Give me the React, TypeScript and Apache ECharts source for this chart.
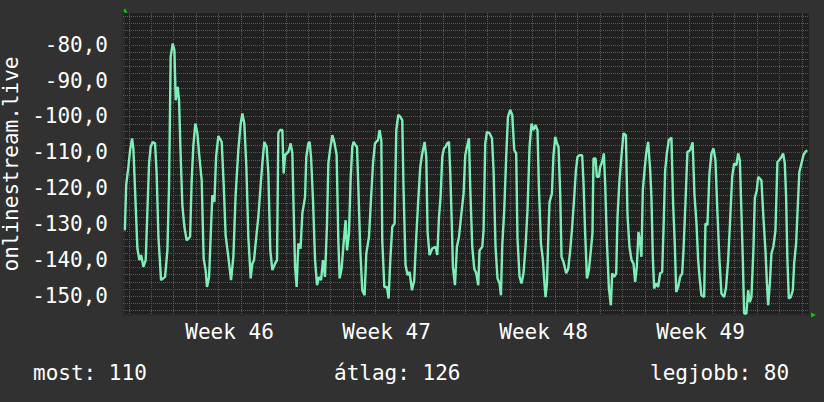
import React, { useEffect, useRef } from "react";
import * as echarts from "echarts";

// [hour since start of graph, signal value]
const samples: [number, number][] = [
  [2.0, -131.7], [3.4, -119.1], [5.8, -114.0], [7.6, -109.4], [9.7, -106.1], [11.1, -108.9], [12.9, -120.5], [15.4, -136.8],
  [17.5, -140.0], [19.4, -138.6], [21.8, -141.9], [24.3, -140.0], [26.4, -124.2], [27.9, -113.1], [29.6, -108.5], [31.8, -107.1],
  [34.3, -107.5], [36.0, -115.9], [37.9, -133.5], [40.7, -145.6], [45.0, -144.7], [47.5, -137.3], [49.3, -119.1], [51.0, -83.4],
  [53.2, -79.7], [55.0, -81.5], [56.4, -95.5], [58.5, -91.8], [60.0, -95.5], [61.4, -108.5], [63.5, -124.7], [65.7, -130.8],
  [68.1, -134.5], [71.8, -133.5], [73.5, -117.8], [75.3, -108.0], [77.4, -102.0], [79.6, -104.7], [81.4, -110.3], [84.2, -117.8],
  [86.3, -139.6], [88.4, -142.8], [89.9, -147.5], [92.1, -144.7], [93.8, -133.5], [95.6, -121.9], [97.8, -123.8], [99.6, -111.3],
  [102.0, -105.5], [105.6, -107.1], [107.7, -118.7], [109.8, -133.1], [112.7, -139.1], [115.6, -145.6], [118.1, -139.1], [120.5, -121.9],
  [123.4, -109.4], [125.9, -102.0], [127.7, -99.2], [129.8, -102.0], [132.0, -114.0], [134.1, -133.5], [136.6, -145.1], [138.4, -141.0],
  [140.2, -140.0], [141.9, -135.4], [144.8, -128.0], [147.3, -119.1], [149.1, -113.1], [151.2, -107.1], [153.7, -108.5], [155.5, -115.9],
  [157.6, -137.3], [159.8, -142.8], [162.7, -141.0], [164.8, -140.0], [166.2, -104.7], [168.0, -103.8], [170.5, -103.8], [171.9, -115.9],
  [173.4, -110.8], [176.9, -109.9], [179.4, -107.5], [181.2, -110.3], [182.6, -126.1], [184.1, -141.9], [185.8, -147.5], [187.6, -135.4],
  [190.0, -136.8], [191.9, -127.0], [194.8, -122.4], [196.1, -111.3], [198.3, -107.5], [199.7, -107.1], [201.2, -111.3], [203.3, -123.3],
  [205.5, -140.0], [207.6, -147.0], [209.7, -144.7], [211.9, -145.6], [214.0, -140.0], [216.1, -144.7], [218.3, -129.8], [219.7, -113.1],
  [221.5, -109.4], [224.0, -105.2], [226.4, -107.5], [228.6, -110.8], [230.4, -134.5], [231.8, -145.1], [233.9, -142.4], [236.0, -135.4],
  [238.2, -128.9], [239.7, -137.3], [241.8, -132.6], [243.5, -117.8], [245.3, -108.5], [246.7, -107.1], [248.9, -108.0], [250.4, -108.5],
  [251.8, -119.6], [253.9, -137.3], [256.0, -148.4], [258.5, -149.8], [260.3, -138.2], [263.2, -133.5], [265.3, -123.3], [267.5, -113.1],
  [269.6, -107.5], [272.8, -106.6], [274.5, -103.8], [276.4, -106.6], [277.4, -134.5], [279.6, -147.5], [282.5, -147.5], [284.2, -150.7],
  [286.0, -140.0], [288.1, -130.8], [290.6, -129.8], [292.4, -103.8], [294.5, -99.6], [296.7, -100.1], [298.8, -101.0], [300.2, -120.5],
  [302.3, -141.4], [304.5, -144.2], [306.6, -143.3], [309.2, -148.4], [311.6, -145.6], [313.8, -133.5], [315.9, -123.3], [318.1, -114.0],
  [320.2, -110.3], [322.7, -107.1], [324.5, -111.3], [325.9, -132.2], [328.0, -138.6], [330.9, -136.8], [334.4, -136.3], [336.3, -138.6],
  [338.1, -128.0], [339.8, -122.4], [341.6, -111.3], [343.4, -108.9], [345.1, -108.5], [346.9, -107.5], [348.8, -107.1], [350.2, -115.9],
  [352.0, -131.7], [353.0, -141.9], [355.2, -147.0], [357.3, -136.3], [359.5, -133.5], [361.9, -127.5], [364.4, -121.5], [366.2, -110.8],
  [368.0, -108.5], [370.2, -106.1], [371.5, -119.6], [373.7, -136.3], [375.8, -142.4], [378.0, -143.7], [380.1, -147.0], [381.5, -137.3],
  [384.4, -136.3], [385.8, -131.7], [387.6, -107.5], [389.4, -104.3], [392.2, -104.7], [394.8, -106.1], [396.5, -115.0], [398.6, -136.3],
  [400.7, -145.1], [402.9, -146.5], [404.4, -149.8], [405.8, -135.9], [407.9, -126.1], [410.0, -111.3], [411.9, -100.1], [414.3, -98.2],
  [416.5, -99.6], [418.6, -109.4], [420.7, -110.3], [422.1, -134.0], [424.3, -144.7], [426.4, -146.5], [428.5, -143.7], [430.7, -136.3],
  [432.8, -126.1], [435.0, -108.5], [437.1, -102.0], [439.2, -103.8], [441.4, -102.4], [443.5, -103.8], [445.0, -119.6], [447.2, -135.4],
  [449.3, -140.0], [450.7, -145.6], [452.1, -150.3], [453.6, -146.5], [455.3, -131.7], [456.4, -123.8], [458.9, -121.5], [460.6, -110.8],
  [462.5, -105.7], [464.3, -107.5], [466.0, -108.5], [467.8, -121.5], [469.2, -139.1], [471.3, -140.5], [474.2, -143.7], [476.4, -142.4],
  [478.5, -137.3], [480.6, -130.8], [482.8, -122.4], [484.6, -115.0], [486.3, -111.3], [488.4, -110.8], [491.3, -110.8], [492.7, -118.2],
  [494.5, -132.6], [496.4, -145.1], [498.5, -142.8], [500.6, -137.3], [502.3, -132.6], [503.4, -111.7], [505.6, -111.7], [507.0, -116.8],
  [509.2, -116.8], [510.6, -114.0], [512.7, -112.7], [514.5, -110.3], [515.9, -118.7], [517.7, -134.5], [519.9, -147.9], [522.0, -152.6],
  [523.4, -143.7], [525.6, -144.7], [527.7, -143.7], [529.1, -128.0], [531.2, -117.8], [533.4, -110.8], [535.5, -104.7], [538.1, -105.2],
  [539.8, -127.5], [541.9, -136.3], [544.1, -140.0], [546.2, -141.0], [548.0, -146.1], [549.8, -141.9], [551.5, -132.2], [553.0, -134.5],
  [554.7, -139.1], [556.2, -120.5], [558.0, -115.0], [559.8, -110.3], [561.9, -107.1], [564.1, -115.0], [565.4, -122.4], [566.9, -139.1],
  [568.3, -147.9], [570.5, -146.5], [572.6, -147.5], [574.7, -143.7], [576.9, -143.3], [578.3, -131.7], [580.1, -115.0], [581.9, -110.3],
  [584.0, -106.6], [586.8, -105.9], [588.6, -124.2], [590.5, -136.3], [591.9, -148.9], [594.0, -147.5], [596.1, -144.7], [598.3, -143.7],
  [599.7, -137.3], [601.8, -124.2], [603.9, -109.9], [606.8, -109.4], [609.5, -107.2], [611.4, -121.5], [613.6, -129.8], [615.4, -140.0],
  [617.2, -145.6], [618.9, -149.8], [621.8, -150.3], [623.2, -129.8], [625.3, -130.3], [627.5, -115.9], [629.6, -110.3], [631.8, -108.9],
  [633.9, -112.2], [636.0, -126.6], [638.2, -140.0], [640.3, -149.3], [643.2, -150.3], [645.3, -147.5], [647.5, -140.0], [649.6, -128.9],
  [651.8, -116.8], [653.9, -113.1], [656.3, -113.6], [658.2, -110.3], [660.0, -112.2], [661.7, -126.6], [663.2, -140.0], [664.6, -154.9],
  [667.0, -154.9], [668.9, -148.4], [670.7, -151.7], [672.4, -150.3], [674.5, -137.3], [676.0, -122.8], [678.2, -120.5], [679.6, -116.8],
  [681.4, -117.3], [683.1, -117.8], [685.2, -128.0], [687.4, -137.3], [688.9, -146.1], [690.3, -152.6], [692.1, -146.5], [693.8, -138.2],
  [695.9, -136.3], [698.1, -131.7], [700.2, -112.7], [702.0, -112.2], [704.5, -111.3], [706.3, -110.3], [708.1, -113.1], [709.5, -122.4],
  [710.9, -140.0], [712.4, -150.7], [714.5, -150.3], [716.7, -148.4], [718.1, -141.0], [720.2, -135.4], [722.3, -123.3], [723.7, -115.4],
  [725.9, -113.1], [728.0, -110.8], [730.1, -109.9], [732.0, -109.4],
];

const yTickValues = [-150, -140, -130, -120, -110, -100, -90, -80];
const weekLabels = ["Week 46", "Week 47", "Week 48", "Week 49"];
const weekStarts = [30, 198, 366, 534, 702]; // hours at week boundaries
const summaryTexts = ["most: 110", "átlag: 126", "legjobb: 80"];
const seriesName = "onlinestream.live";

const X_MIN = 0;
const X_MAX = 734;
const Y_MIN = -155.3;
const Y_MAX = -71.2;

const MONO = "'DejaVu Sans Mono', monospace";

function gridLineSeries(values: number[], vertical: boolean, color: string) {
  return {
    type: "custom",
    silent: true,
    z: 1,
    clip: true,
    data: values.map((v) => (vertical ? [v, Y_MIN] : [X_MIN, v])),
    encode: { x: 0, y: 1 },
    renderItem: (params: any, api: any) => {
      const cs = params.coordSys;
      const p = api.coord([api.value(0), api.value(1)]);
      if (vertical) {
        const x = Math.round(p[0]) + 0.5;
        return {
          type: "line",
          shape: { x1: x, y1: cs.y, x2: x, y2: cs.y + cs.height },
          style: { stroke: color, lineWidth: 1, lineDash: [1, 1] },
        };
      }
      const y = Math.round(p[1]) + 0.5;
      return {
        type: "line",
        shape: { x1: cs.x, y1: y, x2: cs.x + cs.width, y2: y },
        style: { stroke: color, lineWidth: 1, lineDash: [1, 1] },
      };
    },
  };
}

export default function App() {
  const ref = useRef<HTMLDivElement>(null);

  useEffect(() => {
    if (!ref.current) return;
    const chart = echarts.init(ref.current, undefined, { renderer: "svg" });

    const weekCenters = weekStarts.slice(0, weekLabels.length).map((s) => s + 84);

    const dayLines: number[] = [];
    for (let h = 6; h < X_MAX; h += 24) {
      if (!weekStarts.includes(h)) dayLines.push(h);
    }
    const minorH: number[] = [];
    for (let v = -154; v <= -72; v += 2) {
      if (v % 10 !== 0) minorH.push(v);
    }

    chart.setOption({
      animation: false,
      backgroundColor: "#313131",
      grid: {
        left: 123,
        top: 13,
        width: 686,
        height: 302,
        show: true,
        backgroundColor: "#202020",
        borderWidth: 0,
        containLabel: false,
        outerBoundsMode: "none",
      },
      xAxis: {
        type: "value",
        min: X_MIN,
        max: X_MAX,
        splitLine: { show: false },
        axisLine: { show: true, lineStyle: { color: "#2b2b2b", width: 2 } },
        axisTick: { show: false },
        axisLabel: {
          customValues: weekCenters,
          margin: 6,
          color: "#ffffff",
          fontFamily: MONO,
          fontSize: 21,
          formatter: (v: number) => {
            const i = weekCenters.indexOf(v);
            return i >= 0 ? weekLabels[i] : "";
          },
        },
      },
      yAxis: {
        type: "value",
        min: Y_MIN,
        max: Y_MAX,
        name: seriesName,
        nameLocation: "middle",
        nameRotate: 90,
        nameGap: 99,
        nameTextStyle: { color: "#ffffff", fontFamily: MONO, fontSize: 21 },
        splitLine: { show: false },
        axisLine: { show: true, lineStyle: { color: "#2b2b2b", width: 3 } },
        axisTick: { show: false },
        axisLabel: {
          customValues: yTickValues,
          margin: 15,
          color: "#ffffff",
          fontFamily: MONO,
          fontSize: 21,
          formatter: (v: number) => v.toFixed(1).replace(".", ","),
        },
      },
      series: [
        gridLineSeries(dayLines, true, "#5a5a5a"),
        gridLineSeries(minorH, false, "#5a5a5a"),
        gridLineSeries(weekStarts, true, "#923a3a"),
        gridLineSeries(yTickValues, false, "#923a3a"),
        {
          type: "line",
          name: seriesName,
          data: samples,
          z: 5,
          showSymbol: false,
          symbol: "none",
          lineStyle: { color: "#7eedb8", width: 2.4 },
          itemStyle: { color: "#7eedb8" },
        },
      ],
      graphic: [
        {
          type: "polygon",
          shape: { points: [[122.5, 13], [127.5, 13], [125, 8]] },
          style: { fill: "#00cc00" },
        },
        {
          type: "polygon",
          shape: { points: [[811, 312.5], [811, 317.5], [816, 315]] },
          style: { fill: "#00cc00" },
        },
        {
          type: "text",
          left: 33,
          top: 362,
          style: { text: summaryTexts[0], fill: "#ffffff", font: `21px ${MONO}` },
        },
        {
          type: "text",
          left: 334,
          top: 362,
          style: { text: summaryTexts[1], fill: "#ffffff", font: `21px ${MONO}` },
        },
        {
          type: "text",
          left: 650,
          top: 362,
          style: { text: summaryTexts[2], fill: "#ffffff", font: `21px ${MONO}` },
        },
      ],
    });

    return () => chart.dispose();
  }, []);

  return (
    <div
      ref={ref}
      style={{ position: "fixed", left: 0, top: 0, width: 824, height: 402 }}
    />
  );
}
